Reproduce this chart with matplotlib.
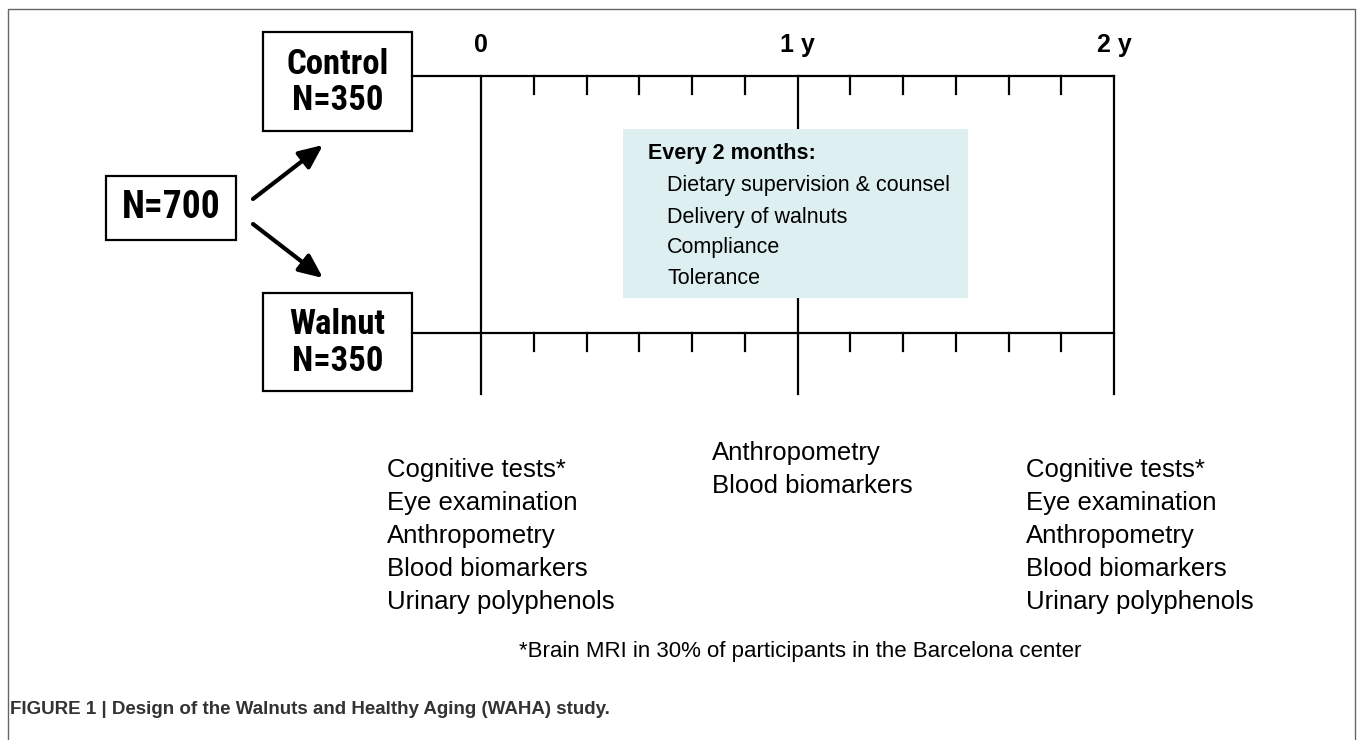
import matplotlib
matplotlib.use("Agg")
import matplotlib.pyplot as plt
from matplotlib.patches import Rectangle, FancyArrowPatch

plt.rcParams['font.family'] = ['Liberation Sans', 'DejaVu Sans']
COND = ['Roboto Condensed', 'DejaVu Sans']

# timeline data (months)
milestones = [0, 12, 24]
milestone_labels = ['0', '1 y', '2 y']
visit_months = list(range(2, 24, 2))

groups = ['Control\nN=350', 'Walnut\nN=350']
total_label = 'N=700'

box_title = 'Every 2 months:'
box_items = ['Dietary supervision & counsel', 'Delivery of walnuts', 'Compliance', 'Tolerance']

baseline_tests = ['Cognitive tests*', 'Eye examination', 'Anthropometry',
                  'Blood biomarkers', 'Urinary polyphenols']
year1_tests = ['Anthropometry', 'Blood biomarkers']
final_tests = baseline_tests
footnote = '*Brain MRI in 30% of participants in the Barcelona center'
caption = 'FIGURE 1 | Design of the Walnuts and Healthy Aging (WAHA) study.'

W, H = 1357, 740
fig = plt.figure(figsize=(W / 100, H / 100), dpi=100)
ax = fig.add_axes([0, 0, 1, 1])
ax.set_xlim(0, W)
ax.set_ylim(H, 0)
ax.axis('off')

x0, x24 = 481, 1114
def mx(m):
    return x0 + m * (x24 - x0) / 24

lw = 1.6
# outer frame
ax.plot([8, 8, 1355, 1355], [745, 9, 9, 745], color='#666666', lw=1.0)

# group boxes + timelines
box_l, box_r = 263, 412
rows = [(32, 131, 76), (293, 391, 333)]
for label, (top, bot, yline) in zip(groups, rows):
    ax.add_patch(Rectangle((box_l, top), box_r - box_l, bot - top, fill=False, lw=lw, ec='black'))
    ax.text((box_l + box_r) / 2, (top + bot) / 2 + 1, label, ha='center', va='center',
            fontsize=25, fontweight='bold', linespacing=1.13, family=COND)
    ax.plot([box_r, mx(24)], [yline, yline], color='black', lw=lw)
    for m in visit_months:
        if m not in milestones:
            ax.plot([mx(m), mx(m)], [yline, yline + 18], color='black', lw=lw)

ax.add_patch(Rectangle((106, 176), 130, 64, fill=False, lw=lw, ec='black'))
ax.text(171, 208, total_label, ha='center', va='center', fontsize=27, fontweight='bold', family=COND)

for start, end in [((253, 199), (323, 145)), ((253, 224), (323, 278))]:
    ax.add_patch(FancyArrowPatch(start, end, arrowstyle='-|>,head_length=9,head_width=4',
                                 mutation_scale=1.6, lw=3, color='black', shrinkA=0, shrinkB=0))

# milestone verticals and labels
for m, lab in zip(milestones, milestone_labels):
    ax.plot([mx(m), mx(m)], [76, 394], color='black', lw=lw)
    ax.text(mx(m), 45, lab, ha='center', va='center', fontsize=18, fontweight='bold')

# visit box
ax.add_patch(Rectangle((623, 129), 345, 169, fc='#ddeff0', ec='none', zorder=3))
ax.text(648, 154, box_title, ha='left', va='center', fontsize=15.5, fontweight='bold', zorder=4)
for i, item in enumerate(box_items):
    ax.text(667, 186 + i * 31, item, ha='left', va='center', fontsize=15.5, zorder=4)

# assessments
for x, tests, y0 in [(387, baseline_tests, 470), (712, year1_tests, 453), (1026, final_tests, 470)]:
    for i, t in enumerate(tests):
        ax.text(x, y0 + i * 33, t, ha='left', va='center', fontsize=18.5)

ax.text(800, 652, footnote, ha='center', va='center', fontsize=16)

ax.text(10, 710, caption, ha='left', va='center', fontsize=13.5, fontweight='bold', color='#333333')

fig.savefig('out.png', dpi=100)
